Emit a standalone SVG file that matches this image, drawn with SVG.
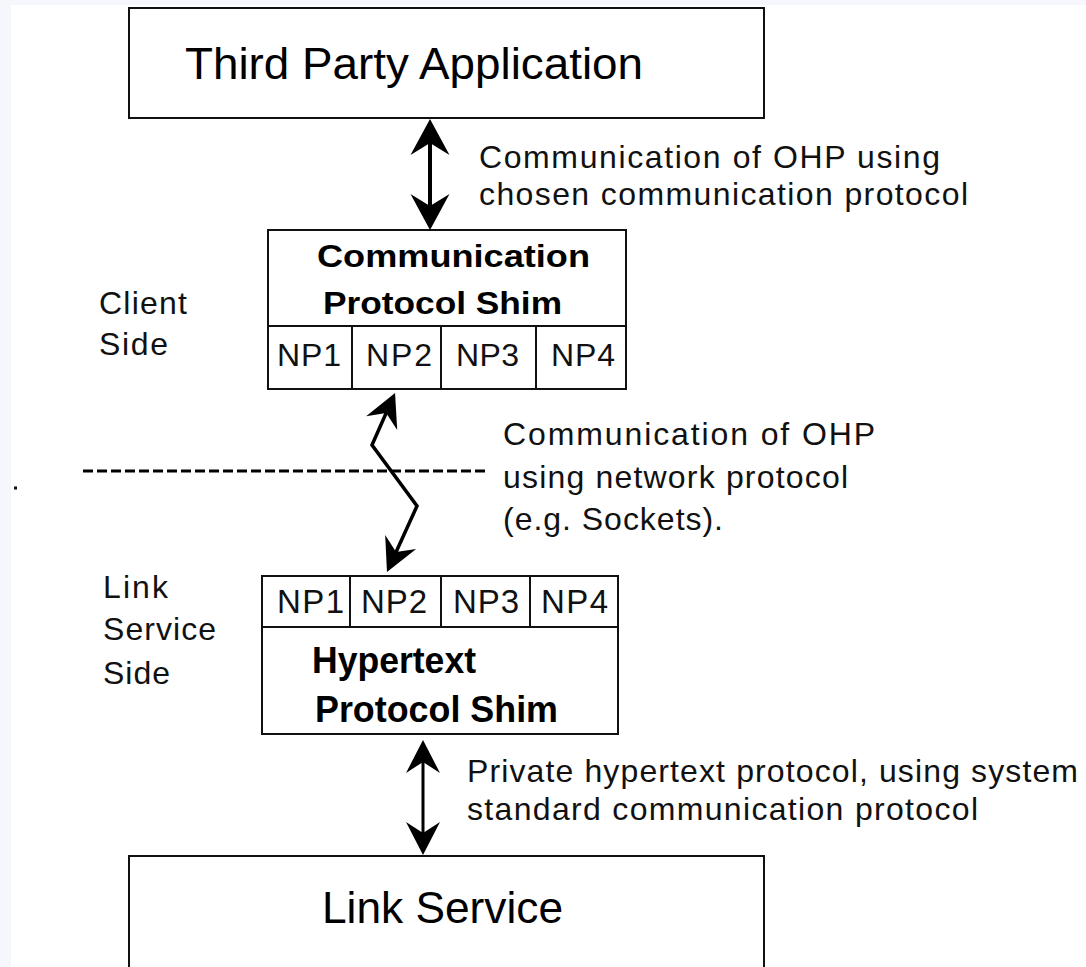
<svg xmlns="http://www.w3.org/2000/svg" width="1086" height="967" viewBox="0 0 1086 967">
  <style>
    .box { fill: #ffffff; stroke: #111111; stroke-width: 2; }
    .cell { fill: none; stroke: #111111; stroke-width: 2; }
    .title { font-family: "Liberation Sans", Arial, sans-serif; fill: #000000; }
    .bold { font-family: "Liberation Sans", Arial, sans-serif; font-weight: bold; fill: #000000; }
    .label { font-family: "Liberation Sans", Arial, sans-serif; font-size: 32px; fill: #111111; }
    .np { font-family: "Liberation Sans", Arial, sans-serif; fill: #111111; }
    .link { fill: none; stroke: #000000; stroke-linejoin: miter; }
  </style>
  <defs>
    <marker id="headL" markerUnits="userSpaceOnUse" viewBox="-30 -20 40 40" markerWidth="40" markerHeight="40" refX="0" refY="0" orient="auto-start-reverse" overflow="visible">
      <path d="M8,0 L-28,-19.5 L-16,0 L-28,19.5 Z" fill="#000000"/>
    </marker>
    <marker id="headM" markerUnits="userSpaceOnUse" viewBox="-30 -20 40 40" markerWidth="40" markerHeight="40" refX="0" refY="0" orient="auto-start-reverse" overflow="visible">
      <path d="M8,0 L-25,-17 L-14,0 L-25,17 Z" fill="#000000"/>
    </marker>
  </defs>

  <!-- page background -->
  <rect x="0" y="0" width="1086" height="967" fill="#f5f7fd"/>
  <rect x="11" y="5" width="1075" height="962" fill="#ffffff"/>

  <g id="node-third-party-application">
    <rect class="box" x="129" y="8" width="635" height="110"/>
    <text class="title" x="185" y="79" font-size="45" textLength="458" lengthAdjust="spacingAndGlyphs">Third Party Application</text>
  </g>

  <g id="node-communication-protocol-shim">
    <rect class="box" x="268" y="230" width="358" height="159"/>
    <line class="cell" x1="268" y1="326" x2="626" y2="326"/>
    <line class="cell" x1="352" y1="326" x2="352" y2="389"/>
    <line class="cell" x1="441" y1="326" x2="441" y2="389"/>
    <line class="cell" x1="536" y1="326" x2="536" y2="389"/>
    <text class="bold" x="317" y="267" font-size="31" textLength="273" lengthAdjust="spacingAndGlyphs">Communication</text>
    <text class="bold" x="323" y="314" font-size="31" textLength="239" lengthAdjust="spacingAndGlyphs">Protocol Shim</text>
    <text class="np" x="277" y="366" font-size="32" textLength="64">NP1</text>
    <text class="np" x="366" y="366" font-size="32" textLength="66">NP2</text>
    <text class="np" x="456" y="366" font-size="32" textLength="63">NP3</text>
    <text class="np" x="551" y="366" font-size="32" textLength="64">NP4</text>
  </g>

  <g id="node-hypertext-protocol-shim">
    <rect class="box" x="262" y="576" width="356" height="158"/>
    <line class="cell" x1="262" y1="627" x2="618" y2="627"/>
    <line class="cell" x1="350" y1="576" x2="350" y2="627"/>
    <line class="cell" x1="441" y1="576" x2="441" y2="627"/>
    <line class="cell" x1="530" y1="576" x2="530" y2="627"/>
    <text class="np" x="277" y="613" font-size="33" textLength="67">NP1</text>
    <text class="np" x="361" y="613" font-size="33" textLength="66">NP2</text>
    <text class="np" x="453" y="613" font-size="33" textLength="66">NP3</text>
    <text class="np" x="541" y="613" font-size="33" textLength="67">NP4</text>
    <text class="bold" x="312" y="673" font-size="36" textLength="164" lengthAdjust="spacingAndGlyphs">Hypertext</text>
    <text class="bold" x="315" y="722" font-size="36" textLength="243" lengthAdjust="spacingAndGlyphs">Protocol Shim</text>
  </g>

  <g id="node-link-service">
    <rect class="box" x="129" y="856" width="635" height="130"/>
    <text class="title" x="322" y="923" font-size="44" textLength="241" lengthAdjust="spacingAndGlyphs">Link Service</text>
  </g>

  <g id="side-labels">
    <text class="label" x="99" y="314" textLength="88">Client</text>
    <text class="label" x="99" y="355" textLength="69">Side</text>
    <text class="label" x="103" y="598" textLength="65">Link</text>
    <text class="label" x="103" y="640" textLength="113">Service</text>
    <text class="label" x="103" y="684" textLength="67">Side</text>
    <rect x="14" y="486.5" width="3" height="3" fill="#111111"/>
  </g>

  <g id="connectors">
    <!-- client / link service boundary -->
    <line x1="83" y1="471" x2="489" y2="471" stroke="#000000" stroke-width="3" stroke-dasharray="10 4"/>
    <!-- application to communication shim -->
    <line class="link" x1="430" y1="127" x2="430" y2="222" stroke-width="4" marker-start="url(#headL)" marker-end="url(#headL)"/>
    <!-- network link between the shims -->
    <path class="link" d="M391.8,400.3 L372,445 L417,506 L390.3,564.7" stroke-width="3.5" marker-start="url(#headM)" marker-end="url(#headM)"/>
    <!-- hypertext shim to link service -->
    <line class="link" x1="423" y1="748" x2="423" y2="847" stroke-width="3" marker-start="url(#headM)" marker-end="url(#headM)"/>
  </g>

  <g id="connector-labels">
    <text class="label" x="479" y="168" textLength="461">Communication of OHP using</text>
    <text class="label" x="479" y="205" textLength="489">chosen communication protocol</text>
    <text class="label" x="503" y="445" textLength="372">Communication of OHP</text>
    <text class="label" x="503" y="488" textLength="345">using network protocol</text>
    <text class="label" x="503" y="530" textLength="220">(e.g. Sockets).</text>
    <text class="label" x="467" y="782" textLength="611">Private hypertext protocol, using system</text>
    <text class="label" x="467" y="820" textLength="511">standard communication protocol</text>
  </g>
</svg>
